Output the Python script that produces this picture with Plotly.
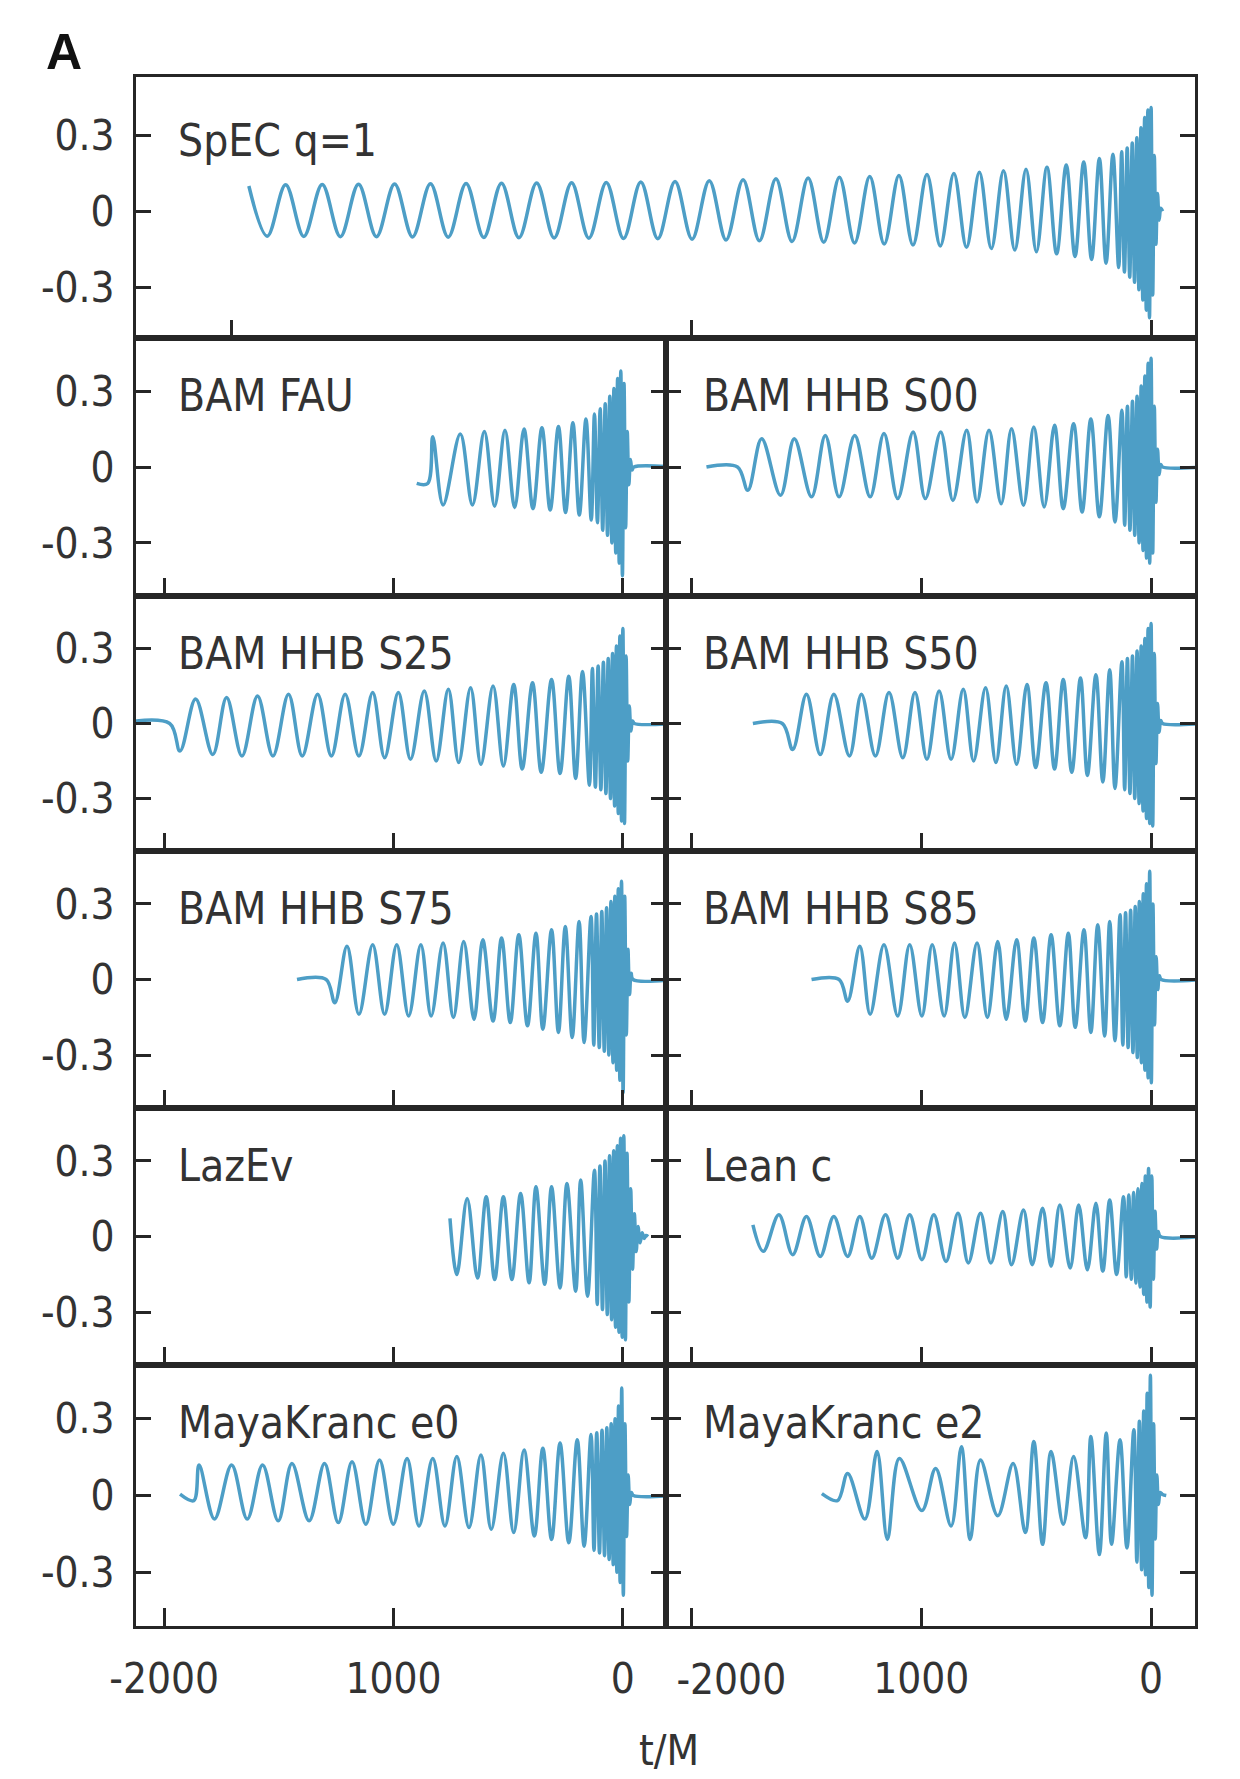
import plotly.graph_objects as go

W, H = 1240, 1779

# ---------------- waveform extrema (t/M, h) ----------------
spec_t = [-3925, -3845, -3765, -3686, -3606, -3527, -3448, -3370, -3291, -3213,
          -3135, -3058, -2980, -2903, -2826, -2750, -2673, -2597, -2521, -2446,
          -2370, -2295, -2220, -2146, -2071, -1997, -1922, -1849, -1775, -1704,
          -1632, -1562, -1492, -1424, -1356, -1290, -1224, -1161, -1097, -1036,
          -975, -917, -858, -803, -747, -695, -642, -593, -544, -499,
          -453, -411, -369, -331, -293, -259, -225, -196, -166, -141,
          -128, -116, -104, -93, -82, -72, -62, -53, -44, -36,
          -28, -21, -14, -7, 0, 7, 14, 21, 28, 35,
          42, 50]
spec_h = [0.100, -0.098, 0.105, -0.099, 0.106, -0.100, 0.107, -0.100, 0.108, -0.101,
          0.109, -0.102, 0.110, -0.103, 0.111, -0.104, 0.112, -0.105, 0.113, -0.106,
          0.114, -0.107, 0.116, -0.108, 0.118, -0.110, 0.121, -0.113, 0.125, -0.116,
          0.128, -0.119, 0.131, -0.122, 0.134, -0.125, 0.137, -0.129, 0.141, -0.133,
          0.145, -0.137, 0.149, -0.142, 0.154, -0.147, 0.160, -0.153, 0.166, -0.160,
          0.174, -0.168, 0.183, -0.178, 0.195, -0.190, 0.208, -0.205, 0.225, -0.222,
          0.235, -0.24, 0.25, -0.26, 0.27, -0.28, 0.29, -0.31, 0.33, -0.35,
          0.37, -0.39, 0.40, -0.42, 0.41, -0.33, 0.22, -0.13, 0.07, -0.035,
          0.012, 0.0]

fau_t = [-899, -851, -829, -784, -709, -656, -604, -559, -514, -472,
         -431, -392, -353, -317, -281, -250, -218, -190, -161, -138,
         -124, -111, -99, -88, -77, -67, -57, -48, -39, -31,
         -23, -16, -9, -2, 5, 12, 19, 26, 33, 40,
         48, 220]
fau_h = [-0.065, -0.065, 0.12, -0.15, 0.13, -0.15, 0.14, -0.155, 0.145, -0.16,
         0.15, -0.165, 0.155, -0.17, 0.16, -0.18, 0.175, -0.19, 0.19, -0.21,
         0.21, -0.22, 0.23, -0.25, 0.25, -0.27, 0.28, -0.30, 0.31, -0.34,
         0.35, -0.38, 0.38, -0.43, 0.33, -0.24, 0.14, -0.07, 0.03, -0.012,
         0, 0]

s00_t = [-1934, -1799, -1754, -1694, -1612, -1552, -1477, -1417, -1357, -1289,
         -1222, -1162, -1102, -1035, -982, -915, -862, -802, -757, -705,
         -652, -607, -555, -510, -465, -420, -382, -337, -300, -262,
         -225, -187, -157, -127, -115, -103, -92, -81, -71, -61,
         -52, -43, -35, -27, -20, -13, -6, 0, 7, 14,
         21, 28, 35, 42, 50, 220]
s00_h = [0, 0, -0.092, 0.112, -0.112, 0.112, -0.118, 0.125, -0.118, 0.125,
         -0.118, 0.132, -0.125, 0.138, -0.125, 0.138, -0.132, 0.145, -0.138, 0.145,
         -0.145, 0.151, -0.151, 0.158, -0.158, 0.165, -0.165, 0.171, -0.178, 0.19,
         -0.197, 0.204, -0.217, 0.224, -0.23, 0.24, -0.25, 0.26, -0.27, 0.28,
         -0.30, 0.32, -0.33, 0.36, -0.36, 0.41, -0.38, 0.43, -0.34, 0.24,
         -0.14, 0.07, -0.03, 0.01, 0, 0]

s25_t = [-2200, -1976, -1931, -1863, -1788, -1728, -1661, -1593, -1526, -1458,
         -1398, -1331, -1271, -1211, -1151, -1091, -1039, -979, -926, -866,
         -814, -761, -716, -664, -619, -566, -521, -476, -439, -394,
         -356, -311, -274, -236, -206, -176, -146, -133, -120, -108,
         -96, -85, -74, -64, -54, -45, -36, -28, -20, -13,
         -6, 0, 7, 14, 21, 28, 35, 42, 50, 220]
s25_h = [0, 0, -0.11, 0.098, -0.124, 0.104, -0.13, 0.11, -0.13, 0.117,
         -0.13, 0.117, -0.13, 0.117, -0.13, 0.124, -0.137, 0.124, -0.143, 0.13,
         -0.15, 0.137, -0.156, 0.143, -0.163, 0.15, -0.17, 0.156, -0.182, 0.163,
         -0.195, 0.176, -0.2, 0.189, -0.22, 0.208, -0.247, 0.22, -0.255, 0.23,
         -0.265, 0.245, -0.28, 0.26, -0.30, 0.28, -0.33, 0.31, -0.36, 0.35,
         -0.39, 0.38, -0.40, 0.27, -0.15, 0.07, -0.03, 0.01, 0, 0]

s50_t = [-1732, -1604, -1559, -1499, -1439, -1380, -1312, -1260, -1199, -1140,
         -1080, -1027, -975, -922, -870, -817, -772, -720, -675, -630,
         -585, -540, -502, -457, -420, -382, -345, -307, -277, -240,
         -210, -180, -157, -127, -115, -103, -92, -81, -71, -61,
         -52, -43, -35, -27, -20, -13, -6, 0, 7, 14,
         21, 28, 35, 42, 50, 220]
s50_h = [0, 0, -0.104, 0.117, -0.124, 0.117, -0.13, 0.117, -0.13, 0.124,
         -0.137, 0.124, -0.143, 0.13, -0.143, 0.137, -0.15, 0.143, -0.156, 0.15,
         -0.163, 0.156, -0.176, 0.163, -0.182, 0.176, -0.195, 0.182, -0.208, 0.195,
         -0.234, 0.215, -0.26, 0.247, -0.265, 0.26, -0.28, 0.27, -0.30, 0.29,
         -0.32, 0.31, -0.35, 0.34, -0.38, 0.38, -0.40, 0.40, -0.41, 0.28,
         -0.16, 0.08, -0.035, 0.012, 0, 0]

s75_t = [-1421, -1294, -1256, -1203, -1151, -1091, -1039, -986, -934, -881,
         -836, -784, -739, -694, -649, -611, -566, -529, -491, -454,
         -416, -379, -349, -311, -281, -251, -221, -191, -169, -139,
         -127, -115, -103, -92, -81, -71, -61, -52, -43, -35,
         -27, -20, -13, -6, 1, 8, 15, 22, 29, 36,
         44, 220]
s75_h = [0, 0, -0.092, 0.132, -0.138, 0.138, -0.138, 0.138, -0.145, 0.138,
         -0.145, 0.145, -0.151, 0.151, -0.158, 0.158, -0.165, 0.165, -0.171, 0.178,
         -0.184, 0.184, -0.197, 0.197, -0.21, 0.21, -0.23, 0.23, -0.25, 0.25,
         -0.26, 0.26, -0.27, 0.27, -0.285, 0.285, -0.30, 0.31, -0.33, 0.33,
         -0.36, 0.36, -0.40, 0.39, -0.45, 0.33, -0.22, 0.12, -0.06, 0.025,
         0, 0]

s85_t = [-1477, -1357, -1320, -1267, -1222, -1162, -1102, -1050, -997, -952,
         -900, -855, -810, -757, -712, -667, -630, -585, -547, -510,
         -472, -435, -397, -360, -330, -292, -262, -232, -202, -180,
         -157, -135, -123, -111, -100, -89, -79, -69, -60, -51,
         -42, -34, -27, -20, -13, -6, 1, 8, 15, 22,
         29, 36, 44, 220]
s85_h = [0, 0, -0.086, 0.132, -0.138, 0.138, -0.145, 0.138, -0.145, 0.138,
         -0.145, 0.145, -0.151, 0.145, -0.151, 0.151, -0.158, 0.158, -0.165, 0.165,
         -0.171, 0.178, -0.184, 0.184, -0.19, 0.197, -0.21, 0.217, -0.224, 0.23,
         -0.243, 0.257, -0.26, 0.265, -0.27, 0.275, -0.29, 0.29, -0.31, 0.31,
         -0.33, 0.34, -0.36, 0.38, -0.39, 0.43, -0.41, 0.30, -0.18, 0.09,
         -0.04, 0.015, 0, 0]

lazev_t = [-754, -724, -679, -634, -596, -559, -521, -484, -446, -409,
           -379, -341, -311, -274, -244, -206, -184, -154, -124, -112,
           -100, -89, -78, -68, -58, -49, -40, -32, -24, -17,
           -10, -3, 4, 11, 18, 26, 34, 42, 50, 58,
           66, 75, 84, 93, 101, 110]
lazev_h = [0.072, -0.151, 0.151, -0.165, 0.158, -0.171, 0.158, -0.171, 0.171, -0.184,
           0.197, -0.19, 0.197, -0.204, 0.21, -0.217, 0.224, -0.237, 0.263, -0.27,
           0.28, -0.29, 0.30, -0.31, 0.32, -0.33, 0.34, -0.36, 0.36, -0.38,
           0.39, -0.40, 0.40, -0.41, 0.33, -0.26, 0.19, -0.13, 0.09, -0.06,
           0.04, -0.025, 0.015, -0.008, 0.004, 0]

leanc_t = [-1732, -1687, -1619, -1559, -1499, -1439, -1380, -1320, -1267, -1215,
           -1155, -1102, -1050, -997, -945, -892, -840, -795, -742, -697,
           -645, -607, -555, -517, -472, -435, -397, -352, -315, -277,
           -240, -210, -180, -150, -120, -108, -97, -86, -76, -66,
           -57, -48, -40, -32, -25, -18, -11, -4, 3, 10,
           17, 24, 31, 40, 220]
leanc_h = [0.046, -0.059, 0.086, -0.072, 0.079, -0.079, 0.079, -0.079, 0.079, -0.086,
           0.086, -0.086, 0.086, -0.092, 0.086, -0.099, 0.092, -0.105, 0.092, -0.105,
           0.099, -0.112, 0.105, -0.112, 0.112, -0.118, 0.125, -0.125, 0.125, -0.132,
           0.132, -0.138, 0.145, -0.151, 0.158, -0.16, 0.165, -0.17, 0.175, -0.185,
           0.19, -0.20, 0.21, -0.23, 0.24, -0.26, 0.27, -0.28, 0.24, -0.17,
           0.10, -0.05, 0.02, 0, 0]

e0_t = [-1931, -1871, -1848, -1781, -1706, -1638, -1571, -1503, -1443, -1368,
        -1301, -1241, -1181, -1121, -1061, -1001, -941, -889, -829, -776,
        -724, -671, -619, -574, -521, -476, -431, -386, -349, -311,
        -274, -236, -199, -169, -139, -126, -114, -102, -91, -80,
        -70, -60, -51, -42, -34, -26, -19, -12, -5, 2,
        9, 16, 23, 30, 37, 46, 220]
e0_h = [0.005, -0.02, 0.119, -0.092, 0.119, -0.092, 0.119, -0.099, 0.125, -0.099,
        0.125, -0.106, 0.132, -0.112, 0.139, -0.112, 0.145, -0.119, 0.145, -0.119,
        0.152, -0.125, 0.158, -0.132, 0.165, -0.145, 0.178, -0.158, 0.185, -0.172,
        0.205, -0.185, 0.218, -0.198, 0.238, -0.215, 0.245, -0.225, 0.255, -0.235,
        0.265, -0.25, 0.28, -0.27, 0.30, -0.30, 0.35, -0.34, 0.42, -0.39,
        0.28, -0.16, 0.08, -0.035, 0.012, 0, 0]

e2_t = [-1432, -1364, -1320, -1245, -1192, -1147, -1095, -997, -937, -870,
        -825, -787, -742, -667, -600, -547, -510, -472, -435, -382,
        -337, -285, -262, -225, -195, -172, -135, -105, -75, -62,
        -51, -41, -32, -24, -17, -10, -3, 4, 11, 18,
        25, 32, 40, 50, 66]
e2_h = [0.007, -0.02, 0.086, -0.092, 0.172, -0.172, 0.145, -0.059, 0.106, -0.119,
        0.191, -0.172, 0.139, -0.079, 0.125, -0.145, 0.211, -0.191, 0.172, -0.112,
        0.152, -0.165, 0.231, -0.231, 0.244, -0.191, 0.218, -0.205, 0.257, -0.26,
        0.29, -0.29, 0.33, -0.31, 0.40, -0.36, 0.47, -0.39, 0.28, -0.17,
        0.08, -0.035, 0.012, 0.004, 0]

panel_labels = ["SpEC q=1", "BAM FAU", "BAM HHB S00", "BAM HHB S25", "BAM HHB S50",
                "BAM HHB S75", "BAM HHB S85", "LazEv", "Lean c",
                "MayaKranc e0", "MayaKranc e2"]
panel_series = [(spec_t, spec_h), (fau_t, fau_h), (s00_t, s00_h), (s25_t, s25_h),
                (s50_t, s50_h), (s75_t, s75_h), (s85_t, s85_h), (lazev_t, lazev_h),
                (leanc_t, leanc_h), (e0_t, e0_h), (e2_t, e2_h)]

y_tickvals = [-0.3, 0, 0.3]
y_ticktext = ["-0.3", "0", "0.3"]
x_tickvals = [-2000, -1000, 0]
x_ticktext_left = ["-2000", "1000", "0"]
x_ticktext_right = ["", "1000", "0"]

# ---------------- layout geometry (pixels) ----------------
X_LEFT, X_MID, X_RIGHT = 136, 666, 1195
ROW_EDGES = [77, 338, 596, 851, 1108, 1365, 1626]

LINE_COLOR = "#4d9ec6"
FRAME = "#262626"
TXT = "#333333"
FONT = "DejaVu Sans Condensed, Liberation Sans Narrow, Arial Narrow, sans-serif"


def px_x(x):
    return x / W


def px_y(y):
    return 1 - y / H


fig = go.Figure()
layout = dict(
    width=W, height=H, margin=dict(l=0, r=0, t=0, b=0, autoexpand=False),
    paper_bgcolor="white", plot_bgcolor="white", showlegend=False,
    font=dict(family=FONT, size=42, color=TXT),
)
annotations = []
tick_font = dict(family=FONT, size=42, color=TXT)

for i, (label, (tv, hv)) in enumerate(zip(panel_labels, panel_series)):
    n = i + 1
    if i == 0:
        row, col = 0, "top"
    else:
        row = (i + 1) // 2
        col = "L" if i % 2 == 1 else "R"
    if col == "top":
        xd = [px_x(X_LEFT), px_x(X_RIGHT)]
        xrange = [-4416, 191]
    elif col == "L":
        xd = [px_x(X_LEFT), px_x(X_MID)]
        xrange = [-2123, 188]
    else:
        xd = [px_x(X_MID), px_x(X_RIGHT)]
        xrange = [-2110, 191]
    yd = [px_y(ROW_EDGES[row + 1]), px_y(ROW_EDGES[row])]
    yrange = [-0.50, 0.53] if row == 0 else [-0.51, 0.51]

    xname = "xaxis" if n == 1 else f"xaxis{n}"
    yname = "yaxis" if n == 1 else f"yaxis{n}"
    xref = "x" if n == 1 else f"x{n}"
    yref = "y" if n == 1 else f"y{n}"

    bottom_row = row == 5
    if col == "top":
        xticks = dict(tickvals=[-4000, -2000, 0], ticktext=["", "", ""], showticklabels=False)
    else:
        xticks = dict(tickvals=x_tickvals,
                      ticktext=x_ticktext_left if col == "L" else x_ticktext_right,
                      showticklabels=bottom_row)

    layout[xname] = dict(
        domain=xd, range=xrange, anchor=yref, showgrid=False, zeroline=False,
        showline=True, mirror=True, linecolor=FRAME, linewidth=3,
        ticks="inside", ticklen=18, tickwidth=3, tickcolor=FRAME,
        tickfont=tick_font, ticklabelstandoff=14,
        automargin=False, fixedrange=True, **xticks,
    )
    layout[yname] = dict(
        domain=yd, range=yrange, anchor=xref, showgrid=False, zeroline=False,
        showline=True, mirror="ticks", linecolor=FRAME, linewidth=3,
        ticks="inside", ticklen=15, tickwidth=3, tickcolor=FRAME,
        tickvals=y_tickvals, ticktext=y_ticktext,
        showticklabels=(col != "R"),
        tickfont=tick_font, ticklabelstandoff=10,
        automargin=False, fixedrange=True,
    )

    fig.add_trace(go.Scatter(
        x=tv, y=hv, xaxis=xref, yaxis=yref, mode="lines",
        line=dict(color=LINE_COLOR, width=3.5, shape="spline", smoothing=1.0),
        hoverinfo="skip",
    ))

    lx = 176 if col in ("top", "L") else 701
    ly = ROW_EDGES[row] + (64 if row == 0 else 57)
    annotations.append(dict(
        text=label, x=px_x(lx), y=px_y(ly), xref="paper", yref="paper",
        xanchor="left", yanchor="middle", showarrow=False,
        font=dict(family=FONT, size=44, color=TXT),
    ))

# bottom-right panel: its "-2000" label sits nudged right of the tick,
# clear of the neighbouring "0"
layout["xaxis12"] = dict(
    domain=[px_x(X_MID), px_x(X_RIGHT)], range=[-2110, 191], anchor="y11",
    overlaying="x11", side="bottom", showgrid=False, zeroline=False,
    showline=False, ticks="", tickvals=[-2000], ticktext=["-2000"],
    tickfont=tick_font, ticklabelstandoff=25, ticklabelshift=40,
    automargin=False, fixedrange=True,
)
fig.add_trace(go.Scatter(x=[], y=[], xaxis="x12", yaxis="y11", mode="lines",
                         hoverinfo="skip", showlegend=False))

annotations.append(dict(
    text="<b>A</b>", x=px_x(44), y=px_y(52), xref="paper", yref="paper",
    xanchor="left", yanchor="middle", showarrow=False,
    font=dict(family="Liberation Sans, Arial, sans-serif", size=50, color="#111111"),
))
annotations.append(dict(
    text="t/M", x=px_x(669), y=px_y(1777), xref="paper", yref="paper",
    xanchor="center", yanchor="bottom", showarrow=False,
    font=dict(family=FONT, size=42, color=TXT),
))
layout["annotations"] = annotations

fig.update_layout(**layout)
fig.write_html("out.html")
